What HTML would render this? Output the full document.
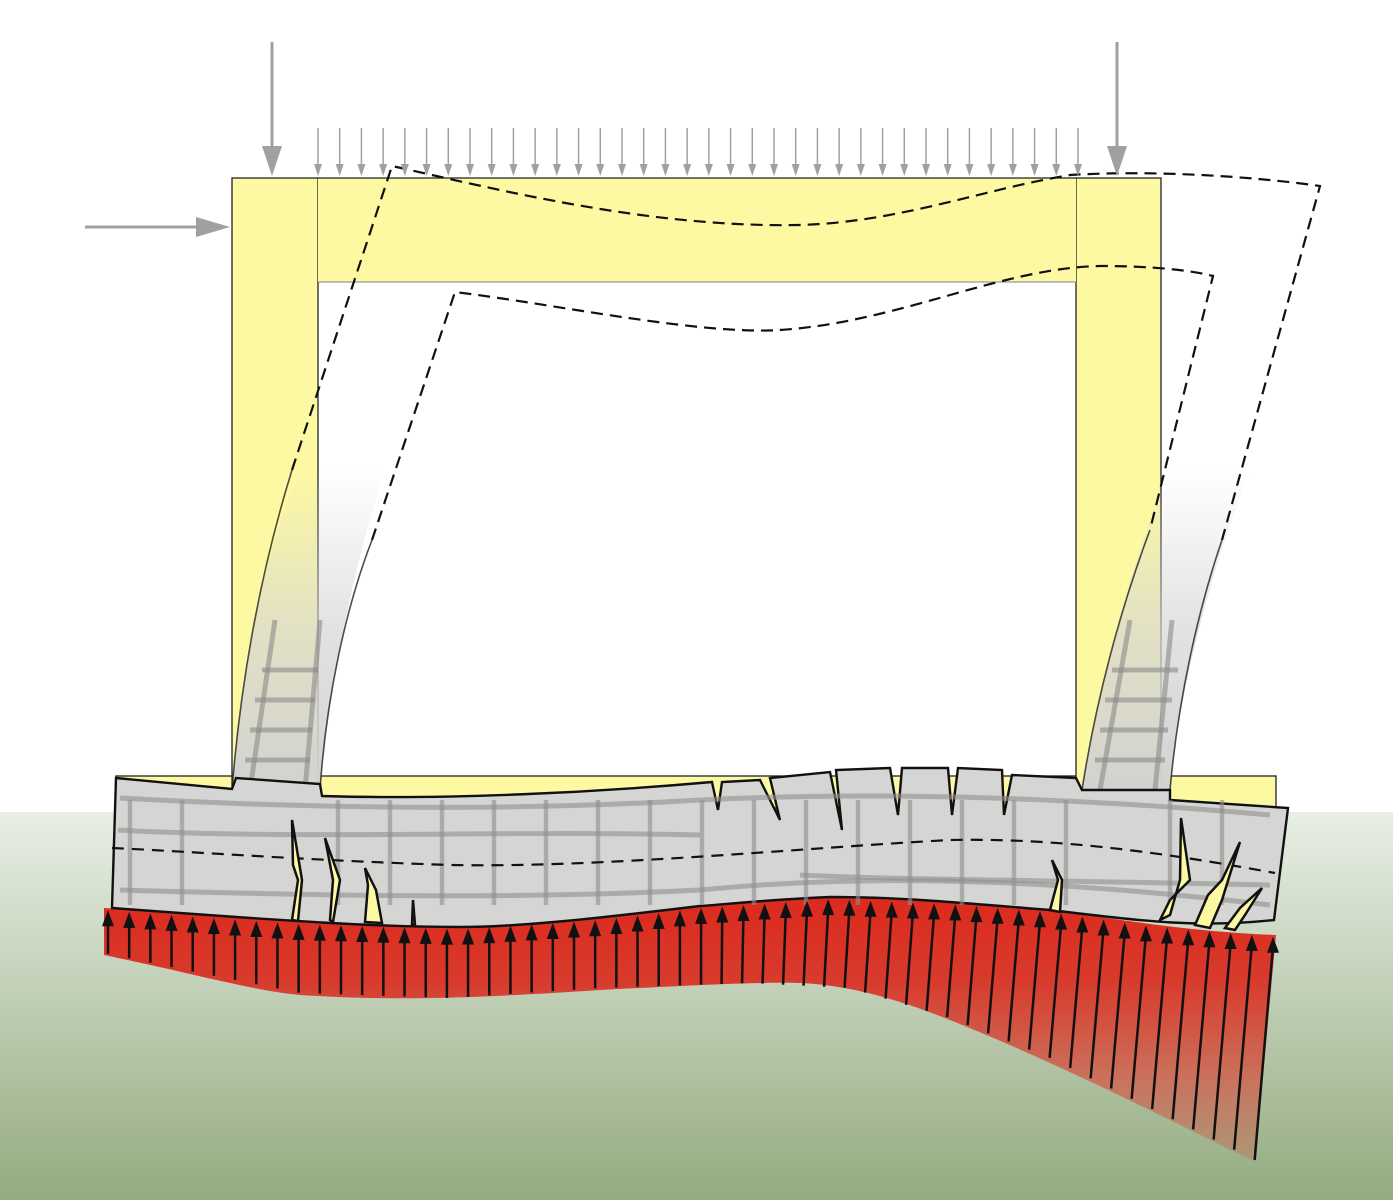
<!DOCTYPE html>
<html><head><meta charset="utf-8"><style>html,body{margin:0;padding:0;background:#fff}svg{display:block}</style></head>
<body>
<svg id="s" xmlns="http://www.w3.org/2000/svg" width="1393" height="1200" viewBox="0 0 1393 1200">
<defs>
<linearGradient id="bg" x1="0" y1="0" x2="0" y2="1">
<stop offset="0" stop-color="#e8efe5"/><stop offset="1" stop-color="#93ab80"/></linearGradient>
<linearGradient id="red" x1="0" y1="900" x2="0" y2="1165" gradientUnits="userSpaceOnUse">
<stop offset="0" stop-color="#dc2a1e"/><stop offset="0.3" stop-color="#d83a2c"/><stop offset="0.7" stop-color="#c97560"/><stop offset="1" stop-color="#a99a78"/></linearGradient>
<linearGradient id="ghostL" x1="0" y1="470" x2="0" y2="790" gradientUnits="userSpaceOnUse">
<stop offset="0" stop-color="#d6d6d4" stop-opacity="0"/><stop offset="0.5" stop-color="#d6d6d4" stop-opacity="0.7"/><stop offset="1" stop-color="#d2d2d0" stop-opacity="1"/></linearGradient>
</defs>
<rect x="0" y="812" width="1393" height="388" fill="url(#bg)"/>
<g fill="#fdf9a2" stroke="#222" stroke-width="1.3">
<rect x="116" y="776" width="1160" height="32"/>
<rect x="232" y="178" width="86" height="612"/>
<rect x="1076" y="178" width="85" height="612"/>
<rect x="318" y="178" width="758" height="104" stroke="none"/>
</g>
<line x1="318" y1="178" x2="1076" y2="178" stroke="#222" stroke-width="1.3"/>
<line x1="318" y1="282" x2="1076" y2="282" stroke="#999" stroke-width="1.3"/>
<path d="M232,790 C240,690 260,560 300,470 L385,470 C355,560 330,680 320,790 Z" fill="url(#ghostL)"/>
<path d="M1082,790 C1100,690 1130,560 1170,470 L1250,470 C1215,560 1180,680 1170,790 Z" fill="url(#ghostL)"/>
<path d="M232,790 C240,690 258,580 292,470" fill="none" stroke="#222" stroke-width="1.6" stroke-opacity="0.8"/>
<path d="M320,790 C326,700 345,610 372,540" fill="none" stroke="#222" stroke-width="1.6" stroke-opacity="0.8"/>
<path d="M1082,790 C1096,700 1120,610 1150,530" fill="none" stroke="#222" stroke-width="1.6" stroke-opacity="0.8"/>
<path d="M1170,790 C1178,700 1198,610 1222,540" fill="none" stroke="#222" stroke-width="1.6" stroke-opacity="0.8"/>
<g stroke="#8a8a8a" stroke-width="5" stroke-opacity="0.6">
<line x1="250" y1="790" x2="275" y2="620"/><line x1="305" y1="790" x2="320" y2="620"/>
<line x1="245" y1="760" x2="310" y2="760"/><line x1="250" y1="730" x2="312" y2="730"/><line x1="255" y1="700" x2="315" y2="700"/><line x1="262" y1="670" x2="318" y2="670"/>
<line x1="1100" y1="790" x2="1130" y2="620"/><line x1="1155" y1="790" x2="1172" y2="620"/>
<line x1="1095" y1="760" x2="1165" y2="760"/><line x1="1100" y1="730" x2="1168" y2="730"/><line x1="1105" y1="700" x2="1172" y2="700"/><line x1="1112" y1="670" x2="1178" y2="670"/>
</g>
<g fill="none" stroke="#111" stroke-width="2.2" stroke-dasharray="12,7">
<path d="M292,470 L392,166 C500,190 650,228 800,225 C900,222 980,190 1070,175 C1150,170 1250,176 1320,186 L1222,540"/>
<path d="M372,540 L455,292 C560,305 700,335 780,330 C900,322 1000,268 1100,266 C1150,266 1190,270 1213,276 L1150,530"/>
</g>
<path d="M104,908 L104,955 C200,975 250,990 300,995 C380,1000 450,1000 600,990 C700,985 750,982 800,983 C850,985 900,1000 950,1020 C1050,1060 1150,1110 1255,1162 L1276,935 C1200,932 1150,924 1050,910 C950,902 900,897 830,897 C760,900 720,905 700,906 C600,918 520,927 460,927 C380,927 300,922 104,908 Z" fill="url(#red)"/>
<path d="M116,778 L232,789 L236,778 L320,784 L322,796 C450,800 600,792 712,782 L718,810 L722,782 L760,780 L780,820 L770,778 L830,772 L842,830 L836,770 L890,768 L898,815 L902,768 L948,768 L952,815 L958,768 L1002,770 L1004,815 L1012,775 L1076,778 L1082,790 L1170,790 L1170,800 L1288,808 L1274,920 C1200,928 1150,922 1050,910 C950,902 900,897 830,897 C760,900 720,905 700,906 C600,918 520,927 460,927 C380,927 300,922 112,908 Z" fill="#d5d5d3" stroke="#111" stroke-width="2.4" stroke-linejoin="miter"/>
<g stroke="#8f8f8f" stroke-width="5" stroke-opacity="0.6" fill="none">
<path d="M120,798 C300,808 500,812 700,800 C900,790 1100,800 1270,815"/>
<path d="M120,890 C300,895 500,900 700,890 C900,870 1100,885 1270,905"/>
<path d="M118,830 C300,840 500,830 700,835" />
<path d="M800,875 C900,880 1050,880 1270,885"/>
</g>
<g id="vbars" stroke="#8f8f8f" stroke-width="4.5" stroke-opacity="0.6"></g>
<path d="M112,848 C200,852 300,860 450,865 C600,868 800,848 950,840 C1050,838 1150,850 1275,873" fill="none" stroke="#111" stroke-width="2.2" stroke-dasharray="12,8"/>
<g fill="#fdf9a2" stroke="#111" stroke-width="2.5" stroke-linejoin="miter">
<path d="M292,920 L298,880 L293,865 L292,820 L302,880 L298,921 Z"/>
<path d="M330,920 L333,880 L325,838 L340,880 L333,922 Z"/>
<path d="M365,922 L368,885 L365,868 L376,890 L382,923 Z"/>
<path d="M412,924 L413,900 L415,925 Z"/>
<path d="M1050,910 L1058,880 L1052,860 L1062,880 L1060,912 Z"/>
<path d="M1160,920 L1170,900 L1190,880 L1181,818 L1180,880 L1170,915 Z"/>
<path d="M1195,925 L1208,895 L1222,880 L1240,842 L1222,900 L1210,928 Z"/>
<path d="M1225,928 L1240,908 L1262,888 L1245,915 L1235,930 Z"/>
</g>
<g id="arr"></g>
<g fill="#a0a0a0" stroke="#a0a0a0">
<line x1="272" y1="42" x2="272" y2="150" stroke-width="3"/><path d="M262,146 L282,146 L272,176 Z" stroke="none"/>
<line x1="1117" y1="42" x2="1117" y2="150" stroke-width="3"/><path d="M1107,146 L1127,146 L1117,176 Z" stroke="none"/>
<line x1="85" y1="227" x2="200" y2="227" stroke-width="3"/><path d="M196,217 L196,237 L230,227 Z" stroke="none"/>
<g id="small"></g>
</g>
</svg>
<script>
(function(){
var NS="http://www.w3.org/2000/svg";
function el(p,t,a){var e=document.createElementNS(NS,t);for(var k in a)e.setAttribute(k,a[k]);p.appendChild(e);return e;}
function interp(pts,x){for(var i=0;i<pts.length-1;i++){if(x>=pts[i][0]&&x<=pts[i+1][0]){var t=(x-pts[i][0])/(pts[i+1][0]-pts[i][0]);return pts[i][1]+t*(pts[i+1][1]-pts[i][1]);}}return x<pts[0][0]?pts[0][1]:pts[pts.length-1][1];}
var tp=[[104,908],[200,915],[300,922],[460,927],[600,918],[700,906],[830,897],[950,902],[1050,910],[1150,924],[1276,935]];
var bt=[[104,955],[200,975],[300,995],[450,1000],[600,990],[750,985],[850,990],[950,1020],[1050,1060],[1150,1110],[1255,1162]];
var g=document.getElementById("arr");
for(var i=0;i<56;i++){var x=108+i*(1273-108)/55;var ty=interp(tp,x)+2;var bx=x>700?x-(x-700)*0.032:x;var by=interp(bt,bx)-2;
el(g,"line",{x1:bx,y1:by,x2:x,y2:ty+10,stroke:"#111","stroke-width":2.5});
el(g,"path",{d:"M"+(x-6)+","+(ty+16)+" L"+(x+6)+","+(ty+16)+" L"+x+","+ty+" Z",fill:"#111"});}
var s=document.getElementById("small");
for(var i=0;i<36;i++){var x=318+i*(1078-318)/35;
el(s,"line",{x1:x,y1:128,x2:x,y2:166,"stroke-width":1.5});
el(s,"path",{d:"M"+(x-4)+",164 L"+(x+4)+",164 L"+x+",176 Z",stroke:"none"});}
var v=document.getElementById("vbars");
for(var x=130;x<1270;x+=52){if(x>232&&x<320)continue;if(x>1080&&x<1170)continue;el(v,"line",{x1:x,y1:800,x2:x,y2:905});}
})();
</script>
</body></html>
